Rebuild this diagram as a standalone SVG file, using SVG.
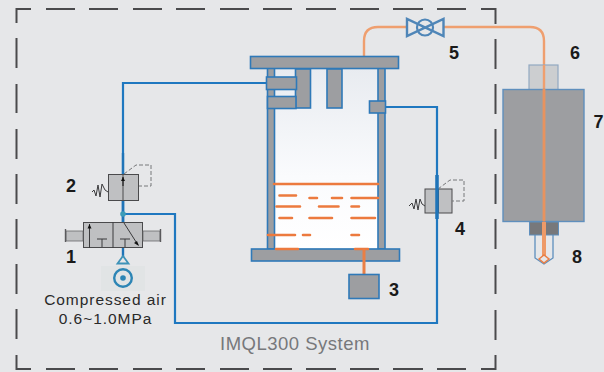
<svg xmlns="http://www.w3.org/2000/svg" width="604" height="372" viewBox="0 0 604 372">
<style>
.lab{font-family:"Liberation Sans",Arial,sans-serif;font-size:18px;font-weight:bold;fill:#1a1a1a}
.cap{font-family:"Liberation Sans",Arial,sans-serif;font-size:15.500px;fill:#2a2a2a;text-anchor:middle;letter-spacing:.95px}
.g{fill:#9d9ea1;stroke:#2f79b8;stroke-width:1.6}
.v{fill:#bfc0c2;stroke:#4a4a4c;stroke-width:1}
.k{fill:none;stroke:#3a3a3c;stroke-width:1}
.d{fill:none;stroke:#77787a;stroke-width:1;stroke-dasharray:4 2}
.b{fill:none;stroke:#1f78c0;stroke-width:2.200}
.od{fill:none;stroke:#ec7a3e;stroke-width:2.6;stroke-linecap:round}
.bd{fill:none;stroke:#4a4a4c;stroke-width:2}
</style>
<rect width="604" height="372" fill="#e6e7e9"/>
<defs><linearGradient id="glass" x1="0" y1="0" x2="0" y2="1"><stop offset="0" stop-color="#e8ebf0"/><stop offset=".6" stop-color="#fafbfd"/><stop offset="1" stop-color="#ffffff"/></linearGradient></defs>
<g id="boundary">
<path class="bd" d="M16.500 23V9H31M46 9H75M89 9H118M133 9H162M176 9H205M220 9H249M263 9H292M306 9H336M350 9H379M393 9H423M437 9H466M481 9H495.500V24"/>
<path class="bd" d="M16.500 38V68M16.500 84V113M16.500 129V159M16.500 174V204M16.500 219V249M16.500 264V294M16.500 309V339M16.500 355V369H31M46 369H75M89 369H118M133 369H162M176 369H205M220 369H249M263 369H292M306 369H336M350 369H379M393 369H423M437 369H466M481 369H495.500V355"/>
<path class="bd" d="M495.500 39V69M495.500 84V114M495.500 129V159M495.500 174V204M495.500 219V249M495.500 265V294M495.500 310V340"/>
</g>
<g id="connectors">
<path class="b" d="M266 83H123V176"/>
<path class="b" d="M123 214H175V323H437V107H386"/>
<path d="M123 200V214" fill="none" stroke="#1f74b8" stroke-width="2.800"/>
<path d="M123 153V175" fill="none" stroke="#1f74b8" stroke-width="2.400"/>
<path d="M123 214V222" fill="none" stroke="#1f74b8" stroke-width="2.800"/>
<circle cx="123" cy="214" r="2.800" fill="#3d9cb8"/>
<path d="M364 56V41Q364 27 378 27H407M443 27H530Q544 27 544 41V65" fill="none" stroke="#ef9f6f" stroke-width="2.400"/>
</g>
<g id="reactor">
<rect x="275" y="68" width="103" height="180" fill="url(#glass)"/>
<rect class="g" x="267.500" y="68" width="7" height="181"/>
<rect class="g" x="378" y="68" width="7" height="181"/>
<rect class="g" x="250.500" y="56.500" width="148" height="12"/>
<rect class="g" x="295.500" y="69" width="15" height="39"/>
<rect class="g" x="327" y="69" width="15" height="39"/>
<rect class="g" x="266.500" y="77" width="30" height="12.500"/>
<rect class="g" x="267.500" y="96.500" width="28.500" height="12"/>
<rect class="g" x="369.500" y="101" width="16" height="12"/>
<rect class="g" x="251.500" y="249" width="148" height="12"/>
<g class="od">
<path d="M274 184H378"/><path d="M279.500 195.500H296M309.500 198H317M332 198H342M351.500 198H378"/>
<path d="M276.500 206.500H300M319 206.500H338.500M351.500 206.500H359"/>
<path d="M279.500 218H292M309.500 218H332M351.500 218H375"/>
<path d="M268 235H295M303 235H310M351.500 235H359"/>
<path d="M276 249H298M355 249H368"/>
</g>
</g>
<g id="node-3"><path d="M364 249V275" fill="none" stroke="#ea7f45" stroke-width="3"/><rect class="g" x="349" y="274.500" width="30" height="24"/><text class="lab" x="389" y="296">3</text></g>
<g id="node-4">
<rect class="v" x="425" y="189" width="27" height="24"/>
<path d="M438.500 189V213" stroke="#4a4a4c"/>
<path d="M438 189L450 180H464V201H452" class="d"/>
<path d="M425 206L422 204L420 199L418 210L416 199L414 209L412 203L409 206" class="k"/>
<path d="M437 175V219" stroke="#1f74b8" stroke-width="3.500" fill="none"/>
<text class="lab" x="455" y="235">4</text>
</g>
<g id="node-2">
<rect class="v" x="108.500" y="174.500" width="30" height="26"/>
<path d="M123 174V200" stroke="#4a4a4c"/>
<path d="M124 174L136 165H151V186H139" class="d"/>
<path d="M108 192L105 190L102 184L100 197L98 185L96 196L94 190L92 192" class="k"/>
<path d="M123 177V186" stroke="#111" stroke-width="1"/><path d="M123 177L121 181H125Z" fill="#111"/>
<text class="lab" x="66" y="192">2</text>
</g>
<g id="node-1">
<rect class="v" x="83.500" y="222.500" width="59" height="25"/>
<path class="k" d="M113 222V248M89.500 224V248"/>
<path d="M89.500 224L87.500 228.500H91.500Z" fill="#111"/>
<path class="k" d="M97 239H107M102 239V247M120 239H130M125 239V247M124 223L138 245"/>
<path d="M139 246L134 243L137 241Z" fill="#111"/>
<rect x="66" y="231" width="17" height="10" fill="#bfc0c2" stroke="#6a6a6c" stroke-width=".8"/>
<rect x="143" y="231" width="17" height="10" fill="#bfc0c2" stroke="#6a6a6c" stroke-width=".8"/>
<path d="M65.500 229V242M160.500 229V242" fill="none" stroke="#5a5a5c" stroke-width="1.400"/>
<text class="lab" x="66" y="263">1</text>
</g>
<g id="air-source">
<rect x="101" y="266" width="44" height="25" fill="#e1e4e5"/>
<path d="M123 248V257" stroke="#1f74b8" stroke-width="2.400"/>
<path d="M123 256L117.500 263.500H128.500Z" fill="none" stroke="#3d92b8" stroke-width="1.800"/>
<circle cx="123" cy="278" r="8.800" fill="none" stroke="#2c85b5" stroke-width="2.400"/>
<circle cx="123" cy="278" r="2.800" fill="#2c85b5"/>
<text class="cap" x="105.500" y="305">Compressed air</text>
<text class="cap" x="105.500" y="324">0.6~1.0MPa</text>
</g>
<g id="node-5">
<path d="M407 19L407 36L443.500 19L443.500 36Z" fill="none" stroke="#4f86b8" stroke-width="2.400"/>
<circle cx="425" cy="27.500" r="8" fill="none" stroke="#4f86b8" stroke-width="2.200"/>
<text class="lab" x="449" y="59">5</text>
</g>
<g id="node-6">
<rect x="529" y="65" width="29" height="25" fill="#ccced0" stroke="#92a9c2" stroke-width="1.200"/>
<path d="M544 65V90" stroke="#ef9f6f" stroke-width="2.400"/>
<text class="lab" x="570" y="59">6</text>
</g>
<g id="node-7">
<rect x="503" y="89.500" width="81" height="132" fill="#9d9ea1" stroke="#5f8fbd" stroke-width="1.400"/>
<path d="M544 89V222" stroke="#e8935f" stroke-width="2.800"/>
<text class="lab" x="593.500" y="128">7</text>
</g>
<g id="node-8">
<rect x="529.500" y="222" width="29" height="13" fill="#77787b" stroke="#5f8fbd" stroke-width="1"/>
<path d="M535 235V258L544 264L553 258V235" fill="none" stroke="#5f8fbd" stroke-width="1.300"/>
<path d="M544 222V256" stroke="#ee9a68" stroke-width="4"/>
<path d="M539 259L544 255L549 259L544 263Z" fill="none" stroke="#ea7f45" stroke-width="1.500"/>
<text class="lab" x="572" y="263">8</text>
</g>
<text x="295" y="350" font-family="Liberation Sans,Arial,sans-serif" font-size="18.500" fill="#77787b" text-anchor="middle" letter-spacing=".5">IMQL300 System</text>
</svg>
